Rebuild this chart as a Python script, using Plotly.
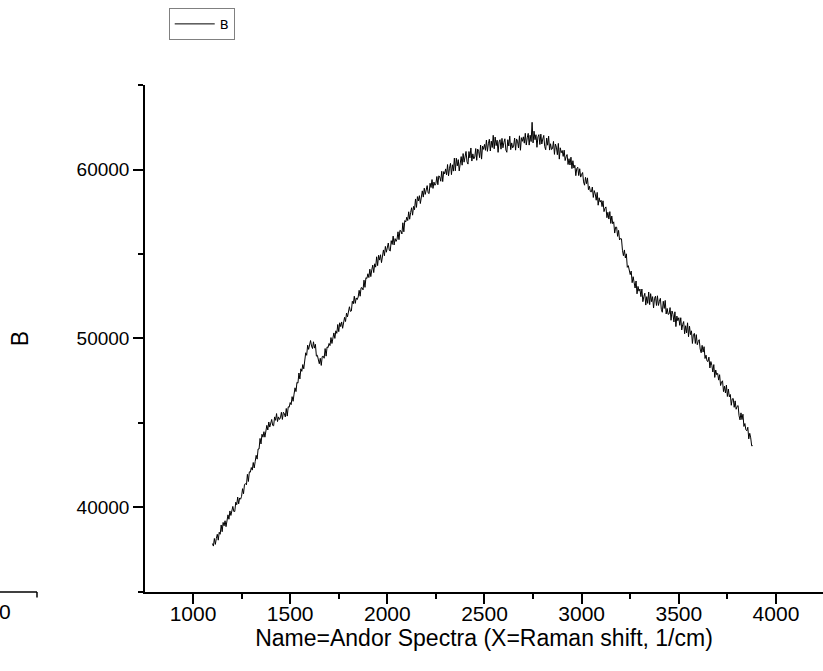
import plotly.graph_objects as go

# Raman shift (1/cm), one row per 50 1/cm
raman_shift = [
    1100, 1105, 1110, 1115, 1120, 1125, 1130, 1135, 1140, 1145,
    1150, 1155, 1160, 1165, 1170, 1175, 1180, 1185, 1190, 1195,
    1200, 1205, 1210, 1215, 1220, 1225, 1230, 1235, 1240, 1245,
    1250, 1255, 1260, 1265, 1270, 1275, 1280, 1285, 1290, 1295,
    1300, 1305, 1310, 1315, 1320, 1325, 1330, 1335, 1340, 1345,
    1350, 1355, 1360, 1365, 1370, 1375, 1380, 1385, 1390, 1395,
    1400, 1405, 1410, 1415, 1420, 1425, 1430, 1435, 1440, 1445,
    1450, 1455, 1460, 1465, 1470, 1475, 1480, 1485, 1490, 1495,
    1500, 1505, 1510, 1515, 1520, 1525, 1530, 1535, 1540, 1545,
    1550, 1555, 1560, 1565, 1570, 1575, 1580, 1585, 1590, 1595,
    1600, 1605, 1610, 1615, 1620, 1625, 1630, 1635, 1640, 1645,
    1650, 1655, 1660, 1665, 1670, 1675, 1680, 1685, 1690, 1695,
    1700, 1705, 1710, 1715, 1720, 1725, 1730, 1735, 1740, 1745,
    1750, 1755, 1760, 1765, 1770, 1775, 1780, 1785, 1790, 1795,
    1800, 1805, 1810, 1815, 1820, 1825, 1830, 1835, 1840, 1845,
    1850, 1855, 1860, 1865, 1870, 1875, 1880, 1885, 1890, 1895,
    1900, 1905, 1910, 1915, 1920, 1925, 1930, 1935, 1940, 1945,
    1950, 1955, 1960, 1965, 1970, 1975, 1980, 1985, 1990, 1995,
    2000, 2005, 2010, 2015, 2020, 2025, 2030, 2035, 2040, 2045,
    2050, 2055, 2060, 2065, 2070, 2075, 2080, 2085, 2090, 2095,
    2100, 2105, 2110, 2115, 2120, 2125, 2130, 2135, 2140, 2145,
    2150, 2155, 2160, 2165, 2170, 2175, 2180, 2185, 2190, 2195,
    2200, 2205, 2210, 2215, 2220, 2225, 2230, 2235, 2240, 2245,
    2250, 2255, 2260, 2265, 2270, 2275, 2280, 2285, 2290, 2295,
    2300, 2305, 2310, 2315, 2320, 2325, 2330, 2335, 2340, 2345,
    2350, 2355, 2360, 2365, 2370, 2375, 2380, 2385, 2390, 2395,
    2400, 2405, 2410, 2415, 2420, 2425, 2430, 2435, 2440, 2445,
    2450, 2455, 2460, 2465, 2470, 2475, 2480, 2485, 2490, 2495,
    2500, 2505, 2510, 2515, 2520, 2525, 2530, 2535, 2540, 2545,
    2550, 2555, 2560, 2565, 2570, 2575, 2580, 2585, 2590, 2595,
    2600, 2605, 2610, 2615, 2620, 2625, 2630, 2635, 2640, 2645,
    2650, 2655, 2660, 2665, 2670, 2675, 2680, 2685, 2690, 2695,
    2700, 2705, 2710, 2715, 2720, 2725, 2730, 2735, 2740, 2745,
    2750, 2755, 2760, 2765, 2770, 2775, 2780, 2785, 2790, 2795,
    2800, 2805, 2810, 2815, 2820, 2825, 2830, 2835, 2840, 2845,
    2850, 2855, 2860, 2865, 2870, 2875, 2880, 2885, 2890, 2895,
    2900, 2905, 2910, 2915, 2920, 2925, 2930, 2935, 2940, 2945,
    2950, 2955, 2960, 2965, 2970, 2975, 2980, 2985, 2990, 2995,
    3000, 3005, 3010, 3015, 3020, 3025, 3030, 3035, 3040, 3045,
    3050, 3055, 3060, 3065, 3070, 3075, 3080, 3085, 3090, 3095,
    3100, 3105, 3110, 3115, 3120, 3125, 3130, 3135, 3140, 3145,
    3150, 3155, 3160, 3165, 3170, 3175, 3180, 3185, 3190, 3195,
    3200, 3205, 3210, 3215, 3220, 3225, 3230, 3235, 3240, 3245,
    3250, 3255, 3260, 3265, 3270, 3275, 3280, 3285, 3290, 3295,
    3300, 3305, 3310, 3315, 3320, 3325, 3330, 3335, 3340, 3345,
    3350, 3355, 3360, 3365, 3370, 3375, 3380, 3385, 3390, 3395,
    3400, 3405, 3410, 3415, 3420, 3425, 3430, 3435, 3440, 3445,
    3450, 3455, 3460, 3465, 3470, 3475, 3480, 3485, 3490, 3495,
    3500, 3505, 3510, 3515, 3520, 3525, 3530, 3535, 3540, 3545,
    3550, 3555, 3560, 3565, 3570, 3575, 3580, 3585, 3590, 3595,
    3600, 3605, 3610, 3615, 3620, 3625, 3630, 3635, 3640, 3645,
    3650, 3655, 3660, 3665, 3670, 3675, 3680, 3685, 3690, 3695,
    3700, 3705, 3710, 3715, 3720, 3725, 3730, 3735, 3740, 3745,
    3750, 3755, 3760, 3765, 3770, 3775, 3780, 3785, 3790, 3795,
    3800, 3805, 3810, 3815, 3820, 3825, 3830, 3835, 3840, 3845,
    3850, 3855, 3860, 3865, 3870, 3875, 3880,
]

# Intensity B (counts), same rows
intensity_b = [
    37850, 37700, 38150, 37800, 38150, 38400, 38050, 38520, 38400, 38950,
    38550, 39100, 38900, 39200, 38850, 39350, 39550, 39290, 39780, 39515,
    39800, 40050, 39750, 39750, 40300, 40150, 40600, 40200, 40550, 40475,
    40650, 41100, 40800, 41350, 41400, 41325, 41950, 41525, 42100, 42075,
    42350, 42200, 42650, 42325, 42700, 43075, 42850, 43450, 43450, 44075,
    43750, 44325, 44150, 44475, 44150, 44650, 44850, 44575, 45050, 44750,
    45000, 45200, 44850, 44825, 45350, 45150, 45550, 45075, 45350, 45200,
    45300, 45625, 45200, 45625, 45550, 45350, 45850, 45400, 45950, 45925,
    46200, 46075, 46550, 46275, 46700, 47075, 46850, 47400, 47350, 47950,
    47600, 48200, 48050, 48450, 48200, 48825, 49150, 49000, 49600, 49350,
    49650, 49875, 49550, 49400, 49800, 49425, 49650, 48950, 49000, 48625,
    48500, 48825, 48400, 48925, 48950, 48825, 49400, 48950, 49500, 49450,
    49700, 49575, 50050, 49700, 50050, 50325, 50000, 50450, 50300, 50825,
    50400, 50925, 50700, 50975, 50600, 51075, 51250, 51000, 51500, 51275,
    51600, 51875, 51600, 51625, 52200, 52050, 52500, 52075, 52400, 52300,
    52450, 52850, 52500, 53000, 53000, 52875, 53450, 53025, 53600, 53550,
    53830, 53605, 54100, 53660, 54060, 54340, 53900, 54420, 54220, 54835,
    54310, 54925, 54640, 54955, 54490, 55045, 55240, 54895, 55450, 55105,
    55420, 55650, 55220, 55175, 55790, 55565, 56060, 55535, 55910, 55745,
    55880, 56315, 55850, 56405, 56360, 56185, 56850, 56315, 56980, 56900,
    57180, 56980, 57500, 57060, 57460, 57740, 57300, 57820, 57620, 58260,
    57760, 58400, 58140, 58455, 57990, 58545, 58740, 58370, 58900, 58530,
    58820, 59050, 58620, 58575, 59190, 58940, 59410, 58885, 59260, 59070,
    59180, 59590, 59100, 59630, 59560, 59310, 59900, 59290, 59880, 59750,
    60040, 59690, 60300, 59630, 60080, 60370, 59700, 60285, 59910, 60680,
    59930, 60675, 60220, 60590, 59920, 60585, 60770, 60260, 60950, 60440,
    60810, 61075, 60460, 60325, 61070, 60695, 61280, 60505, 60930, 60635,
    60740, 61245, 60550, 61215, 61080, 60705, 61450, 60620, 61390, 61200,
    61490, 61140, 61750, 61080, 61530, 61795, 61100, 61685, 61310, 62030,
    61230, 61925, 61420, 61740, 61020, 61635, 61770, 61210, 61850, 61290,
    61610, 61825, 61160, 61025, 61770, 61395, 61980, 61180, 61580, 61285,
    61390, 61870, 61150, 61815, 61680, 61280, 62000, 61145, 61890, 61675,
    61940, 61565, 62150, 61455, 61880, 62145, 61450, 62035, 61660, 62800,
    61580, 62275, 61770, 62065, 61320, 61935, 62070, 61485, 62100, 61515,
    61810, 62025, 61360, 61175, 61870, 61445, 61980, 61155, 61530, 61185,
    61240, 61670, 60900, 61515, 61330, 60880, 61550, 60620, 61290, 61000,
    61130, 60780, 61150, 60535, 60760, 60890, 60300, 60645, 60270, 60735,
    60060, 60525, 60090, 60255, 59640, 60070, 60140, 59645, 60050, 59555,
    59720, 59825, 59270, 59075, 59540, 59165, 59510, 58810, 59010, 58695,
    58680, 58965, 58350, 58755, 58560, 58185, 58650, 57890, 58330, 58075,
    58180, 57805, 58150, 57510, 57710, 57790, 57150, 57470, 57070, 57510,
    56810, 57250, 56790, 56905, 56240, 56595, 56590, 56045, 56400, 55830,
    55920, 55900, 55220, 54900, 55240, 54765, 55010, 54210, 54310, 53895,
    53780, 53990, 53300, 53655, 53410, 52985, 53400, 52640, 53080, 52800,
    52925, 52475, 52925, 52175, 52475, 52675, 51975, 52475, 52075, 52750,
    52000, 52650, 52175, 52475, 51800, 52375, 52500, 51950, 52525, 51950,
    52200, 52375, 51725, 51550, 52200, 51775, 52250, 51450, 51775, 51425,
    51450, 51825, 51075, 51625, 51425, 50975, 51575, 50700, 51325, 51050,
    51225, 50775, 51225, 50500, 50825, 51000, 50275, 50750, 50325, 50925,
    50100, 50725, 50225, 50450, 49700, 50225, 50300, 49700, 50225, 49625,
    49820, 49925, 49370, 49150, 49590, 49190, 49510, 48810, 49010, 48670,
    48630, 48890, 48250, 48630, 48410, 48010, 48450, 47690, 48130, 47850,
    47930, 47530, 47850, 47210, 47410, 47490, 46850, 47170, 46770, 47235,
    46560, 47000, 46540, 46680, 46040, 46420, 46440, 45920, 46300, 45805,
    45970, 46025, 45420, 45175, 45590, 45190, 45510, 44785, 44960, 44595,
    44530, 44740, 44050, 44380, 44110, 43635, 43650,
]

series_name = "B"
x_title = "Name=Andor Spectra (X=Raman shift, 1/cm)"
y_title = "B"

FONT = "Liberation Sans, Arial, sans-serif"

fig = go.Figure()
fig.add_trace(go.Scatter(
    x=raman_shift, y=intensity_b, mode="lines", name=series_name,
    line=dict(color="black", width=1), showlegend=True,
))

axis_common = dict(
    showline=True, linecolor="black", linewidth=1.5,
    showgrid=False, zeroline=False,
    ticks="outside", ticklen=10, tickwidth=1.5, tickcolor="black",
)

fig.update_xaxes(
    range=[753, 4242], tick0=1000, dtick=500,
    tickfont=dict(family=FONT, size=21, color="black"),
    ticklabelstandoff=-8,
    minor=dict(ticks="outside", ticklen=5, tickwidth=1.5, tickcolor="black", dtick=250, tick0=1000),
    title=dict(text=x_title, font=dict(family=FONT, size=23, color="black"), standoff=2),
    **axis_common,
)
fig.update_yaxes(
    range=[34980, 65010], tick0=0, dtick=10000, tickformat="d",
    tickfont=dict(family=FONT, size=19, color="black"),
    minor=dict(ticks="outside", ticklen=5, tickwidth=1.5, tickcolor="black", dtick=5000, tick0=0),
    title=dict(text=y_title, font=dict(family=FONT, size=23, color="black"), standoff=42),
    **axis_common,
)

# clipped fragment of a neighbouring axis at the far left
fig.add_shape(type="line", xref="paper", yref="paper",
              x0=-0.2139, x1=-0.1593, y0=0, y1=0,
              line=dict(color="black", width=1.5))
fig.add_shape(type="line", xref="paper", yref="paper",
              x0=-0.1593, x1=-0.1593, y0=0, y1=-0.011,
              line=dict(color="black", width=1.5))
fig.add_annotation(text="0", xref="paper", yref="paper", x=-0.1947, y=-0.038,
                   xanchor="right", yanchor="middle", showarrow=False,
                   font=dict(family=FONT, size=21, color="black"))

fig.update_layout(
    width=823, height=671,
    margin=dict(l=145, r=0, t=85, b=79),
    paper_bgcolor="white", plot_bgcolor="white",
    legend=dict(x=0.035, y=1.152, xanchor="left", yanchor="top",
                bordercolor="#808080", borderwidth=1, bgcolor="white",
                font=dict(family="DejaVu Sans, sans-serif", size=13, color="black"),
                itemwidth=40, tracegroupgap=0),
)

fig.write_html("out.html")
